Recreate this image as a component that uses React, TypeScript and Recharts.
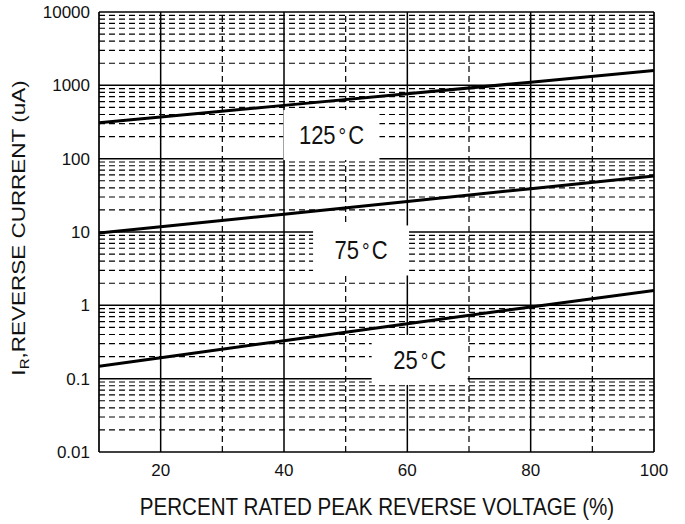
import React from 'react'
import { LineChart, Line, XAxis, YAxis, ReferenceLine, ReferenceDot } from 'recharts'

// percent rated peak reverse voltage
const voltage = [10, 20, 40, 60, 80, 100]
// reverse current (uA) per junction temperature
const current125 = [310, 371, 533, 767, 1104, 1590]
const current75 = [9.7, 11.8, 17.5, 26, 39, 58]
const current25 = [0.148, 0.193, 0.33, 0.56, 0.95, 1.6]

const xTicks = [20, 40, 60, 80, 100]
const xMajorGrid = [20, 40, 60, 80]
const xMinorGrid = [30, 50, 70, 90]
const yDecades = [0.01, 0.1, 1, 10, 100, 1000, 10000]
const yMinorSteps = [2, 3, 4, 5, 6, 7, 8, 9]

const tempLabels = [
    { text: '125', x: 47.7, y: 210 },
    { text: '75', x: 52.5, y: 5.6 },
    { text: '25', x: 62, y: 0.18 },
]

const data = voltage.map((v, i) => ({
    v,
    t125: current125[i],
    t75: current75[i],
    t25: current25[i],
}))

const yMinor = yDecades.slice(0, -1).flatMap(d => yMinorSteps.map(m => +(d * m).toPrecision(3)))

const font = '"Liberation Sans", Arial, sans-serif'
const dash = '6 4'

const TempBox = (text:string) => (props:any) => {
    const { cx, cy } = props
    return <g>
        <rect x={cx - 48} y={cy - 25} width={96} height={50} fill='#fff' />
        <text
            transform={`translate(${cx},${cy}) scale(1,1.15)`}
            x={0} y={7.5}
            textAnchor='middle'
            fontFamily={font}
            fontSize={22}
            fill='#111'
        >{text}<tspan dx={3} fontSize={19}>°</tspan><tspan dx={2}>C</tspan></text>
    </g>
}

const YTitle = () => <text
    transform='translate(19,228) rotate(-90) scale(1.25,1)'
    x={0} y={6}
    textAnchor='middle'
    fontFamily={font}
    fontSize={18}
    fill='#111'
>
    I<tspan fontSize={12} dy={4}>R</tspan><tspan dy={-4}>,REVERSE CURRENT (uA)</tspan>
</text>

const XTitle = () => <text
    transform='translate(377,507) scale(1,1.13)'
    x={0} y={7.4}
    textAnchor='middle'
    fontFamily={font}
    fontSize={20.6}
    fill='#111'
>PERCENT RATED PEAK REVERSE VOLTAGE (%)</text>

export default function App() {
    return <div style={{ position: 'absolute', left: 0, top: 0, background: '#fff' }}>
        <LineChart
            width={685}
            height={524}
            data={data}
            margin={{ top: 12, right: 31, left: 0, bottom: 0 }}
        >
            <XAxis
                dataKey='v'
                type='number'
                domain={[10, 100]}
                ticks={xTicks}
                allowDataOverflow
                axisLine={false}
                tickLine={false}
                tickSize={0}
                tickMargin={12}
                height={72}
                tick={{ fontSize: 17, fontFamily: font, fill: '#111' }}
                label={{ content: () => <XTitle /> }}
            />
            <YAxis
                type='number'
                scale='log'
                domain={[0.01, 10000]}
                ticks={yDecades}
                allowDataOverflow
                axisLine={false}
                tickLine={false}
                tickSize={0}
                tickMargin={9}
                width={99}
                tickFormatter={(t) => `${t}`}
                tick={{ fontSize: 17, fontFamily: font, fill: '#111' }}
                label={{ content: () => <YTitle /> }}
            />

            {yMinor.map(y => <ReferenceLine key={'ym' + y} y={y} stroke='#000' strokeWidth={1.2} strokeDasharray={dash} />)}
            {xMinorGrid.map(x => <ReferenceLine key={'xm' + x} x={x} stroke='#000' strokeWidth={1.2} strokeDasharray={dash} />)}
            {yDecades.map(y => <ReferenceLine key={'yd' + y} y={y} stroke='#000' strokeWidth={1.5} />)}
            {xMajorGrid.map(x => <ReferenceLine key={'xd' + x} x={x} stroke='#000' strokeWidth={1.5} />)}
            <ReferenceLine x={10} stroke='#000' strokeWidth={1.7} />
            <ReferenceLine x={100} stroke='#000' strokeWidth={1.7} />

            {tempLabels.map(l => <ReferenceDot key={l.text} x={l.x} y={l.y} r={1} shape={TempBox(l.text)} />)}

            <Line type='linear' dataKey='t125' stroke='#000' strokeWidth={3} dot={false} isAnimationActive={false} />
            <Line type='linear' dataKey='t75' stroke='#000' strokeWidth={3} dot={false} isAnimationActive={false} />
            <Line type='linear' dataKey='t25' stroke='#000' strokeWidth={3} dot={false} isAnimationActive={false} />
        </LineChart>
    </div>
}
